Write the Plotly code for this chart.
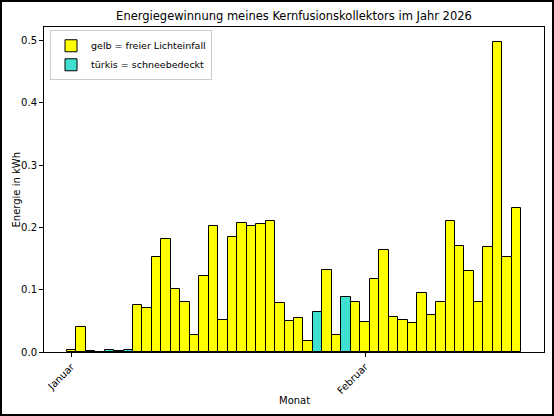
import plotly.graph_objects as go
import pandas as pd

start_date = "2026-01-01"
n_days = 48
energie_kwh = [
    0.003, 0.040, 0.001, 0.000, 0.003, 0.001, 0.004, 0.076, 0.070, 0.153,
    0.182, 0.101, 0.080, 0.027, 0.122, 0.202, 0.051, 0.184, 0.207, 0.203,
    0.206, 0.210, 0.078, 0.049, 0.055, 0.018, 0.065, 0.131, 0.028, 0.088,
    0.081, 0.048, 0.117, 0.163, 0.056, 0.051, 0.046, 0.095, 0.059, 0.080,
    0.210, 0.170, 0.130, 0.081, 0.169, 0.497, 0.152, 0.232,
]
schnee = [
    0, 0, 0, 0, 1, 0, 1, 0, 0, 0,
    0, 0, 0, 0, 0, 0, 0, 0, 0, 0,
    0, 0, 0, 0, 0, 0, 1, 0, 0, 1,
    0, 0, 0, 0, 0, 0, 0, 0, 0, 0,
    0, 0, 0, 0, 0, 0, 0, 0,
]
tick_dates = ["2026-01-01", "2026-02-01"]
tick_labels = ["Januar", "Februar"]
legend_names = ["gelb = freier Lichteinfall", "türkis = schneebedeckt"]
title_text = "Energiegewinnung meines Kernfusionskollektors im Jahr 2026"
x_title = "Monat"
y_title = "Energie in kWh"

dates = pd.date_range(start_date, periods=n_days, freq="D")
day_ms = 86400000

gelb_y = [v if s == 0 else None for v, s in zip(energie_kwh, schnee)]
tuerkis_y = [v if s == 1 else None for v, s in zip(energie_kwh, schnee)]

fig = go.Figure()
fig.add_trace(go.Bar(x=dates, y=gelb_y, width=day_ms, name=legend_names[0],
                     marker=dict(color="#ffff00", line=dict(color="black", width=1))))
fig.add_trace(go.Bar(x=dates, y=tuerkis_y, width=day_ms, name=legend_names[1],
                     marker=dict(color="#40e0d0", line=dict(color="black", width=1))))

ymax = max(energie_kwh) * 1.05
span_start = dates[0] - pd.Timedelta(hours=12)
span_end = dates[-1] + pd.Timedelta(hours=12)
margin = (span_end - span_start) * 0.05

L, R, T, B = 44, 10, 27, 64
W, H = 554, 416
pw, ph = W - L - R, H - T - B

fig.update_layout(
    width=W, height=H,
    margin=dict(l=L, r=R, t=T, b=B, pad=0, autoexpand=False),
    paper_bgcolor="white", plot_bgcolor="white",
    font=dict(family="DejaVu Sans", size=10, color="black"),
    barmode="overlay",
    bargap=0,
    title=dict(text=title_text, xref="paper", x=0.5, xanchor="center",
               yref="container", y=1 - 16 / H, yanchor="middle",
               font=dict(size=11.5)),
    showlegend=True,
    legend=dict(x=0.012, y=0.99, xanchor="left", yanchor="top",
                bgcolor="rgba(255,255,255,0.8)", bordercolor="#cccccc", borderwidth=1,
                font=dict(size=9.5), tracegroupgap=0, itemwidth=30),
    xaxis=dict(
        range=[span_start - margin, span_end + margin],
        tickvals=pd.to_datetime(tick_dates), ticktext=tick_labels, tickangle=-45,
        ticks="outside", ticklen=4, tickcolor="black",
        showline=True, linecolor="black", linewidth=1, mirror=True,
        showgrid=False, zeroline=False, automargin=False,
    ),
    yaxis=dict(
        range=[0, ymax], tickvals=[0, 0.1, 0.2, 0.3, 0.4, 0.5], tickformat=".1f",
        ticks="outside", ticklen=4, tickcolor="black",
        showline=True, linecolor="black", linewidth=1, mirror=True,
        showgrid=False, zeroline=False, automargin=False,
    ),
    annotations=[
        dict(text=x_title, xref="paper", yref="paper", x=0.5, y=-(400 - T - ph) / ph,
             xanchor="center", yanchor="middle", showarrow=False, font=dict(size=10)),
        dict(text=y_title, xref="paper", yref="paper", x=(16 - L) / pw, y=0.5,
             xanchor="center", yanchor="middle", textangle=-90, showarrow=False,
             font=dict(size=10)),
    ],
)

fig.add_shape(type="rect", xref="paper", yref="paper",
              x0=(1 - L) / pw, x1=(W - 1 - L) / pw,
              y0=-(H - 1 - T - ph) / ph, y1=(ph + T - 1) / ph,
              line=dict(color="black", width=2), fillcolor="rgba(0,0,0,0)", layer="above")

post = (
    "document.documentElement.style.margin='0px';"
    "document.documentElement.style.overflow='hidden';"
    "document.body.style.margin='0px';"
    "document.body.style.padding='0px';"
    "document.body.style.overflow='hidden';"
)
fig.write_html("out.html", config={"displayModeBar": False}, post_script=post)
